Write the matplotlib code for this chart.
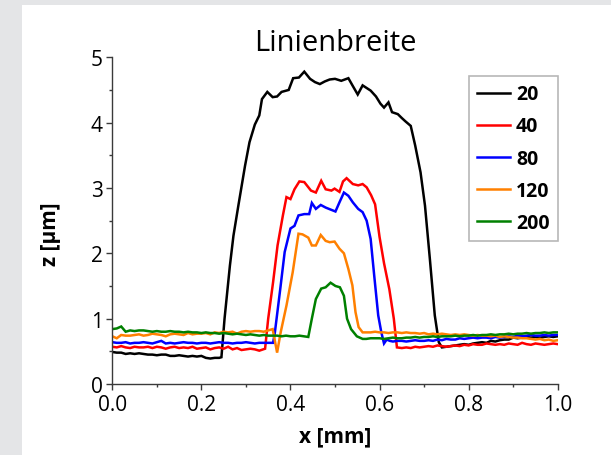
import numpy as np
import matplotlib
matplotlib.use("Agg")
import matplotlib.pyplot as plt
from matplotlib.patches import Rectangle
from matplotlib.ticker import MultipleLocator

plt.rcParams['font.family'] = ['Open Sans', 'DejaVu Sans']


def grid(a, b):
    """Regular 0.01 mm sample positions from a to b (inclusive)."""
    n = int(round((b - a) / 0.01)) + 1
    return list(np.round(np.linspace(a, b, n), 3))


# ---- profile data: x [mm], z [µm] ----
labels = ["20", "40", "80", "120", "200"]
colors = ["#000000", "#ff0000", "#0000ff", "#ff8000", "#008000"]

x_20 = grid(0.00, 0.24) + [0.245, 0.252, 0.264, 0.272, 0.283, 0.298, 0.308, 0.320, 0.330, 0.336,
                           0.348, 0.360, 0.370, 0.380, 0.396, 0.406, 0.419, 0.431, 0.444, 0.455,
                           0.466, 0.477, 0.488, 0.500, 0.514, 0.530, 0.540, 0.551, 0.562, 0.580,
                           0.592, 0.602, 0.610, 0.620, 0.628, 0.641, 0.650, 0.658, 0.670, 0.680,
                           0.692, 0.702, 0.713, 0.724, 0.733, 0.740] + grid(0.75, 1.00)
z_20 = [0.49, 0.48, 0.48, 0.46, 0.47, 0.46, 0.47, 0.46, 0.45, 0.45,
        0.44, 0.45, 0.45, 0.43, 0.43, 0.44, 0.43, 0.42, 0.43, 0.42,
        0.43, 0.40, 0.39, 0.40, 0.40,
        0.41, 1.00, 1.81, 2.27, 2.73, 3.34, 3.70, 3.97, 4.11, 4.36,
        4.47, 4.39, 4.40, 4.47, 4.50, 4.68, 4.69, 4.78, 4.67, 4.62,
        4.59, 4.63, 4.66, 4.67, 4.64, 4.68, 4.56, 4.43, 4.57, 4.49,
        4.40, 4.29, 4.23, 4.31, 4.16, 4.13, 4.07, 4.02, 3.95, 3.65,
        3.24, 2.73, 1.91, 1.05, 0.64, 0.56,
        0.57, 0.58, 0.59, 0.60, 0.61, 0.60, 0.62, 0.63, 0.64, 0.63,
        0.66, 0.65, 0.67, 0.68, 0.68, 0.71, 0.70, 0.71, 0.72, 0.71,
        0.72, 0.71, 0.72, 0.73, 0.72, 0.73]

x_40 = grid(0.00, 0.33) + [0.343, 0.350, 0.361, 0.371, 0.383, 0.391, 0.400, 0.409, 0.420, 0.431,
                           0.446, 0.457, 0.469, 0.479, 0.492, 0.499, 0.510, 0.518, 0.526, 0.540,
                           0.552, 0.562, 0.571, 0.581, 0.590, 0.600, 0.610, 0.622, 0.632, 0.639] + grid(0.65, 1.00)
z_40 = [0.57, 0.56, 0.58, 0.56, 0.55, 0.57, 0.56, 0.56, 0.57, 0.55,
        0.57, 0.56, 0.54, 0.56, 0.57, 0.55, 0.56, 0.55, 0.57, 0.54,
        0.55, 0.56, 0.53, 0.55, 0.56, 0.54, 0.57, 0.53, 0.55, 0.52,
        0.53, 0.54, 0.53, 0.51,
        0.54, 1.00, 1.56, 2.12, 2.58, 2.86, 2.83, 2.98, 3.10, 3.09,
        2.96, 2.93, 3.11, 2.98, 2.96, 2.99, 2.94, 3.10, 3.15, 3.06,
        3.04, 3.06, 3.01, 2.89, 2.75, 2.25, 1.85, 1.45, 1.00, 0.56,
        0.55, 0.56, 0.55, 0.57, 0.56, 0.57, 0.58, 0.57, 0.59, 0.58,
        0.57, 0.58, 0.59, 0.58, 0.60, 0.59, 0.61, 0.60, 0.60, 0.62,
        0.61, 0.60, 0.61, 0.60, 0.62, 0.61, 0.60, 0.63, 0.61, 0.60,
        0.62, 0.61, 0.60, 0.61, 0.62, 0.61]

x_80 = grid(0.00, 0.35) + [0.361, 0.365, 0.377, 0.387, 0.400, 0.409, 0.418, 0.431, 0.442, 0.448,
                           0.457, 0.468, 0.479, 0.490, 0.501, 0.510, 0.520, 0.530, 0.540, 0.552,
                           0.562, 0.571, 0.580, 0.588, 0.597, 0.604, 0.610, 0.616, 0.623] + grid(0.63, 1.00)
z_80 = [0.64, 0.63, 0.63, 0.64, 0.62, 0.63, 0.63, 0.64, 0.63, 0.62,
        0.64, 0.66, 0.62, 0.63, 0.62, 0.63, 0.64, 0.63, 0.63, 0.62,
        0.63, 0.63, 0.62, 0.63, 0.64, 0.63, 0.63, 0.62, 0.63, 0.63,
        0.64, 0.63, 0.62, 0.63, 0.63, 0.63,
        0.63, 0.79, 1.45, 2.02, 2.38, 2.42, 2.58, 2.60, 2.60, 2.77,
        2.68, 2.74, 2.70, 2.67, 2.64, 2.78, 2.93, 2.88, 2.78, 2.68,
        2.63, 2.50, 2.22, 1.66, 1.05, 0.79, 0.62, 0.68, 0.66,
        0.65, 0.66, 0.66, 0.65, 0.66, 0.67, 0.66, 0.66, 0.67, 0.66,
        0.68, 0.67, 0.69, 0.68, 0.68, 0.70, 0.69, 0.70, 0.71, 0.70,
        0.71, 0.71, 0.70, 0.72, 0.71, 0.72, 0.73, 0.72, 0.74, 0.73,
        0.74, 0.75, 0.74, 0.74, 0.75, 0.74, 0.75, 0.75]

x_120 = grid(0.00, 0.35) + [0.360, 0.370, 0.378, 0.391, 0.405, 0.418, 0.427, 0.440, 0.448, 0.457,
                            0.468, 0.479, 0.488, 0.499, 0.510, 0.520, 0.530, 0.539, 0.546, 0.553,
                            0.562] + grid(0.57, 1.00)
z_120 = [0.73, 0.70, 0.75, 0.74, 0.74, 0.75, 0.76, 0.74, 0.75, 0.77,
         0.76, 0.75, 0.73, 0.76, 0.77, 0.76, 0.75, 0.78, 0.76, 0.77,
         0.77, 0.78, 0.76, 0.79, 0.78, 0.80, 0.79, 0.80, 0.77, 0.80,
         0.81, 0.80, 0.81, 0.81, 0.80, 0.82,
         0.84, 0.48, 0.79, 1.20, 1.71, 2.30, 2.29, 2.24, 2.12, 2.12,
         2.28, 2.19, 2.17, 2.18, 2.07, 2.00, 1.76, 1.51, 1.10, 0.87,
         0.79,
         0.79, 0.79, 0.80, 0.79, 0.79, 0.78, 0.79, 0.79, 0.78, 0.79,
         0.78, 0.78, 0.77, 0.78, 0.76, 0.77, 0.76, 0.77, 0.76, 0.75,
         0.76, 0.75, 0.76, 0.75, 0.74, 0.75, 0.74, 0.74, 0.73, 0.74,
         0.72, 0.73, 0.72, 0.71, 0.71, 0.70, 0.70, 0.69, 0.68, 0.69,
         0.67, 0.68, 0.66, 0.67]

x_200 = grid(0.00, 0.44) + [0.448, 0.457, 0.469, 0.479, 0.490, 0.501, 0.511, 0.520, 0.527, 0.536,
                            0.549, 0.562] + grid(0.57, 1.00)
z_200 = [0.84, 0.85, 0.88, 0.80, 0.82, 0.81, 0.82, 0.82, 0.81, 0.80,
         0.81, 0.80, 0.80, 0.81, 0.80, 0.80, 0.79, 0.80, 0.79, 0.79,
         0.78, 0.79, 0.78, 0.78, 0.77, 0.78, 0.77, 0.76, 0.77, 0.76,
         0.75, 0.76, 0.75, 0.74, 0.75, 0.74, 0.74, 0.74, 0.73, 0.74,
         0.73, 0.73, 0.74, 0.73, 0.72,
         1.00, 1.30, 1.46, 1.48, 1.55, 1.50, 1.48, 1.35, 1.00, 0.84,
         0.73, 0.69,
         0.69, 0.70, 0.70, 0.70, 0.69, 0.70, 0.71, 0.70, 0.70, 0.71,
         0.71, 0.72, 0.71, 0.72, 0.72, 0.73, 0.72, 0.73, 0.73, 0.73,
         0.74, 0.73, 0.74, 0.74, 0.75, 0.74, 0.75, 0.75, 0.76, 0.75,
         0.76, 0.76, 0.77, 0.76, 0.77, 0.77, 0.78, 0.77, 0.78, 0.78,
         0.79, 0.78, 0.79, 0.79]

series_x = [x_20, x_40, x_80, x_120, x_200]
series_z = [z_20, z_40, z_80, z_120, z_200]

x_ticks = [0.0, 0.2, 0.4, 0.6, 0.8, 1.0]
y_ticks = [0, 1, 2, 3, 4, 5]

# ---- figure ----
fig = plt.figure(figsize=(6.11, 4.56), dpi=100, facecolor="#e4e5e7")
fig.patches.append(Rectangle((22 / 611, 0), 1, 1 - 6 / 456, transform=fig.transFigure,
                             facecolor="white", edgecolor="none", zorder=-10))

ax = fig.add_axes([0.1838, 0.1557, 0.7290, 0.7165])
ax.set_zorder(1)
ax.set_facecolor("white")

for xs, zs, lab, col in zip(series_x, series_z, labels, colors):
    ax.plot(xs, zs, color=col, lw=1.8, label=lab, solid_joinstyle="miter")

ax.set_xlim(0, 1.0)
ax.set_ylim(0, 5)
ax.set_xticks(x_ticks)
ax.set_xticklabels([f"{v:.1f}" for v in x_ticks])
ax.set_yticks(y_ticks)
ax.xaxis.set_minor_locator(MultipleLocator(0.1))
ax.yaxis.set_minor_locator(MultipleLocator(0.5))

for side in ("top", "right"):
    ax.spines[side].set_visible(False)
for side in ("left", "bottom"):
    ax.spines[side].set_color("#3a3a3a")
    ax.spines[side].set_linewidth(1.0)

ax.tick_params(which="major", direction="out", length=4, width=1.0, color="#3a3a3a",
               labelsize=15, pad=3)
ax.tick_params(which="minor", direction="out", length=2.2, width=1.0, color="#3a3a3a")

ax.set_title("Linienbreite", fontsize=21, pad=5)
ax.set_xlabel("x [mm]", fontsize=15, fontweight="bold")
ax.set_ylabel("z [µm]", fontsize=15, fontweight="bold")
ax.xaxis.set_label_coords(0.5, -0.128)
ax.yaxis.set_label_coords(-0.115, 0.462)

leg = ax.legend(loc="upper right", bbox_to_anchor=(1.0, 0.942), borderaxespad=0,
                fancybox=False, frameon=True, edgecolor="#a6a6a6",
                prop={"weight": "bold", "size": 14}, handlelength=1.7,
                handletextpad=0.3, labelspacing=0.62, borderpad=0.42)
leg.get_frame().set_linewidth(1.2)

fig.savefig("out.png", dpi=100, facecolor=fig.get_facecolor())
